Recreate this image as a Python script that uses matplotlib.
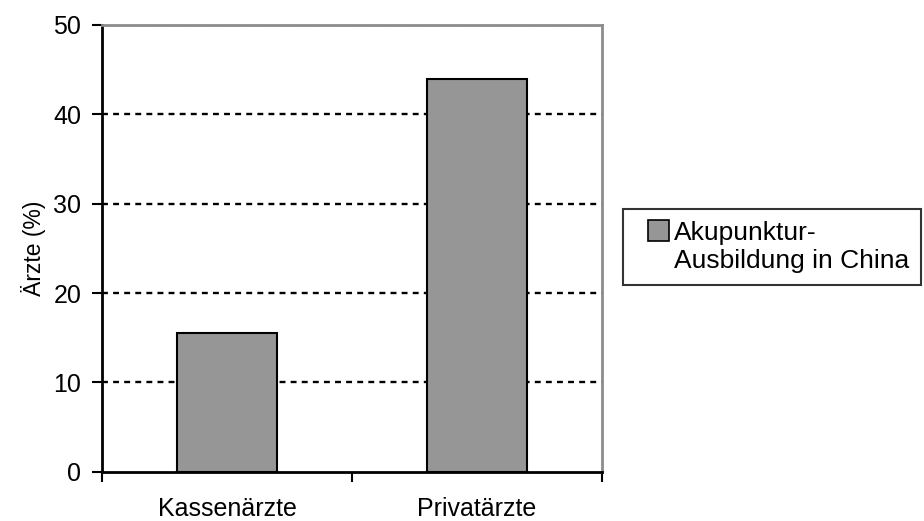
import matplotlib
matplotlib.use("Agg")
import matplotlib.pyplot as plt
from matplotlib.patches import Patch, Rectangle
from matplotlib.legend_handler import HandlerPatch

categories = ["Kassenärzte", "Privatärzte"]
values = [15.5, 44.0]
series_label = "Akupunktur-\nAusbildung in China"
yticks = [0, 10, 20, 30, 40, 50]

plt.rcParams["font.family"] = ["Liberation Sans", "DejaVu Sans"]
FS = 18
LEG_FS = 19

W, H = 924, 521
fig = plt.figure(figsize=(W / 100, H / 100), dpi=100)
ax = fig.add_axes([102 / W, 1 - 471.7 / H, 500 / W, (471.7 - 25) / H])

x = list(range(len(categories)))
ax.bar(x, values, width=0.4, color="#969696", edgecolor="black", linewidth=1.5, zorder=3)

ax.set_xlim(-0.5, len(categories) - 0.5)
ax.set_ylim(0, 50)
ax.set_yticks(yticks)
ax.set_yticklabels([str(v) for v in yticks], fontsize=FS)
for v in yticks[1:]:
    ax.axhline(v, color="black", linestyle=(0, (2.5, 2.2)), linewidth=1.7, zorder=1)

# category ticks sit on the boundaries, labels centred under the bars
ax.set_xticks([i - 0.5 for i in range(len(categories) + 1)])
ax.set_xticklabels([])
ax.set_xticks(x, minor=True)
ax.set_xticklabels(categories, minor=True, fontsize=FS)
ax.tick_params(axis="x", which="major", direction="out", length=7, width=1.5)
ax.tick_params(axis="x", which="minor", length=0, pad=18)
ax.tick_params(axis="y", direction="out", length=7, width=1.5, pad=8)

ax.set_ylabel("Ärzte (%)", fontsize=16.5, labelpad=5)

for s in ["left", "bottom"]:
    ax.spines[s].set_color("black")
    ax.spines[s].set_linewidth(2)
for s in ["top", "right"]:
    ax.spines[s].set_color("#8c8c8c")
    ax.spines[s].set_linewidth(2)


def square_on_first_line(legend, orig_handle, xdescent, ydescent, width, height, fontsize):
    # small square at the right of the handle box, lifted to the first text line
    side = 0.8 * fontsize
    return Rectangle((width - side - xdescent, -ydescent + 0.62 * fontsize), side, side)


handle = Patch(facecolor="#969696", edgecolor="black", linewidth=1.2)
leg = fig.legend([handle], [series_label], loc="upper left",
                 bbox_to_anchor=(623 / W, 1 - 209 / H), fontsize=LEG_FS,
                 frameon=True, fancybox=False, edgecolor="black",
                 handler_map={Patch: HandlerPatch(patch_func=square_on_first_line)},
                 handlelength=1.3, handleheight=0.8, handletextpad=0.18,
                 borderpad=0.45, borderaxespad=0)
leg.get_frame().set_linewidth(1.5)
for t in leg.get_texts():
    t.set_linespacing(1.2)

fig.savefig("out.png", dpi=100)
